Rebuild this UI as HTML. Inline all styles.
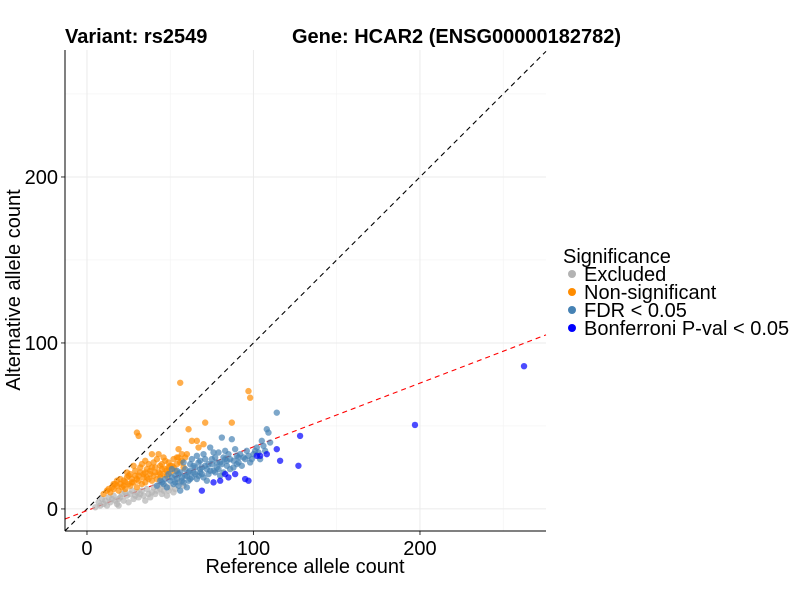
<!DOCTYPE html>
<html><head><meta charset="utf-8"><style>
body{margin:0;background:#fff}
svg{display:block;font-family:"Liberation Sans",Arial,sans-serif}
</style></head><body>
<svg id="chart" width="800" height="600" viewBox="0 0 800 600">
<rect width="800" height="600" fill="#fff"/>
<g id="grid"></g>
<g id="lines"></g>
<g id="pts"></g>
<g id="axes"></g>
<text x="65" y="43" font-size="20" font-weight="bold">Variant: rs2549</text>
<text x="292" y="43" font-size="20" font-weight="bold">Gene: HCAR2 (ENSG00000182782)</text>
<text x="305" y="573" font-size="20" text-anchor="middle">Reference allele count</text>
<text transform="translate(20,290) rotate(-90)" font-size="20" text-anchor="middle">Alternative allele count</text>
<g>
<text x="563" y="263" font-size="20">Significance</text>
<circle cx="572" cy="274" r="4" fill="#b3b3b3"/>
<text x="584" y="281" font-size="20">Excluded</text>
<circle cx="572" cy="292" r="4" fill="#ff8c00"/>
<text x="584" y="299" font-size="20">Non-significant</text>
<circle cx="572" cy="310" r="4" fill="#4682b4"/>
<text x="584" y="317" font-size="20">FDR &lt; 0.05</text>
<circle cx="572" cy="328" r="4" fill="#0000ff"/>
<text x="584" y="335" font-size="20">Bonferroni P-val &lt; 0.05</text>
</g>
</svg>
<script>
const excluded=[[5,1],[8,2],[10,3],[12,2],[14,4],[15,6],[17,5],[18,3],[20,7],[22,5],[24,8],[25,4],[26,9],[28,6],[30,10],[31,7],[33,11],[34,8],[36,12],[37,9],[39,10],[40,13],[42,11],[44,12],[45,9],[47,14],[49,11],[50,13],[52,10],[55,16],[58,14],[35,5],[27,11],[21,9],[16,8],[11,5],[13,7],[19,6],[23,10],[29,8],[32,9],[38,7],[41,9],[43,14],[46,11],[48,8],[53,12],[19,2],[9,6],[7,4]];
const nonsig=[[10,9],[12,11],[14,10],[15,13],[16,12],[18,14],[19,11],[20,15],[21,13],[22,17],[23,12],[24,19],[24,22],[25,15],[26,14],[27,18],[28,26],[28,16],[29,20],[30,13],[30,46],[31,44],[31,17],[32,22],[33,15],[34,19],[35,29],[35,16],[36,24],[37,18],[38,21],[39,33],[39,17],[40,20],[41,25],[42,18],[43,33],[43,22],[44,19],[45,27],[46,21],[47,24],[48,20],[49,28],[50,22],[51,26],[52,30],[53,23],[54,27],[55,36],[55,31],[56,76],[57,29],[58,25],[60,33],[61,48],[63,41],[66,41],[67,37],[70,39],[71,52],[87,52],[97,71],[98,67],[26,21],[33,27],[18,17],[46,31],[44,26],[13,12],[17,15],[20,18],[22,14],[25,20],[27,16],[29,23],[30,18],[32,25],[34,21],[36,19],[37,27],[38,23],[40,28],[41,22],[42,30],[45,24],[47,29],[48,23],[50,26],[52,25],[54,31],[56,28],[57,33],[59,31],[16,15],[23,16],[31,20],[35,22],[39,25],[44,21],[49,25]];
const fdr=[[42,14],[45,16],[47,18],[48,13],[50,17],[52,15],[53,20],[54,18],[55,14],[56,22],[57,19],[58,16],[59,24],[60,20],[61,17],[62,23],[63,19],[64,26],[65,21],[66,18],[67,28],[68,22],[69,25],[70,19],[71,30],[72,24],[73,21],[74,37],[75,27],[76,23],[77,31],[78,25],[79,34],[80,28],[81,43],[82,22],[83,30],[84,26],[85,33],[86,24],[87,42],[88,29],[89,36],[90,27],[91,31],[92,33],[93,26],[95,30],[96,35],[98,28],[100,33],[102,37],[104,30],[105,41],[108,48],[109,46],[114,58],[107,35],[49,21],[51,24],[58,28],[63,30],[66,32],[70,33],[60,13],[72,17],[80,20],[56,11],[44,17],[46,15],[51,19],[53,16],[55,21],[57,17],[59,20],[61,22],[62,18],[64,22],[65,25],[67,20],[68,24],[69,21],[71,26],[73,27],[74,23],[75,30],[77,22],[78,28],[79,24],[81,27],[82,31],[84,29],[86,30],[88,25],[90,32],[91,28],[94,31],[97,32],[99,30],[101,35],[103,34],[106,38],[110,40],[54,23],[62,27],[68,29],[76,34],[83,35]];
const bonf=[[69,11],[76,16],[80,17],[83,21],[85,19],[89,21],[95,18],[97,17],[102,32],[104,32],[108,33],[114,36],[116,29],[127,26],[128,44],[197,50.6],[262.5,86]];
const xTicks=[0,100,200];
const yTicks=[0,100,200];
const minorTicks=[50,150,250];
const fitSlope=0.384, fitIntercept=-1;

const X0=65,X1=546,Y0=50,Y1=531,xmin=-13.2,xmax=275.7,ymin=-13.3,ymax=276.5;
const sx=v=>X0+(v-xmin)/(xmax-xmin)*(X1-X0);
const sy=v=>Y1-(v-ymin)/(ymax-ymin)*(Y1-Y0);
const NS="http://www.w3.org/2000/svg";
function mk(t,a,p){const e=document.createElementNS(NS,t);for(const k in a)e.setAttribute(k,a[k]);p.appendChild(e);return e;}
const grid=document.getElementById('grid'),lines=document.getElementById('lines'),pts=document.getElementById('pts'),axes=document.getElementById('axes');
minorTicks.forEach(v=>{
 const a=mk('line',{x1:sx(v),x2:sx(v),y1:Y0,y2:Y1,stroke:'#f2f2f2','stroke-width':0.6},grid);
 
 
 const b=mk('line',{x1:X0,x2:X1,y1:sy(v),y2:sy(v),stroke:'#f2f2f2','stroke-width':0.6},grid);
 
 
});
xTicks.forEach(v=>{
 const g=mk('line',{x1:sx(v),x2:sx(v),y1:Y0,y2:Y1,stroke:'#ebebeb','stroke-width':1},grid);
 
 
 const t=mk('line',{x1:sx(v),x2:sx(v),y1:Y1,y2:Y1+4,stroke:'#333'},axes);
 
 
 const l=mk('text',{x:sx(v),y:Y1+24,'font-size':20,'text-anchor':'middle',fill:'#000'},axes);
 l.textContent=v;
 
 
});
yTicks.forEach(v=>{
 const g=mk('line',{x1:X0,x2:X1,y1:sy(v),y2:sy(v),stroke:'#ebebeb','stroke-width':1},grid);
 
 
 const t=mk('line',{x1:X0-4,x2:X0,y1:sy(v),y2:sy(v),stroke:'#333'},axes);
 
 
 const l=mk('text',{x:X0-7,y:sy(v)+7,'font-size':20,'text-anchor':'end',fill:'#000'},axes);
 l.textContent=v;
 
 
});
const ax=mk('line',{x1:X0,x2:X0,y1:Y0,y2:Y1,stroke:'#000','stroke-width':1},axes);


const bx=mk('line',{x1:X0,x2:X1,y1:Y1,y2:Y1,stroke:'#000','stroke-width':1},axes);


const diag=mk('line',{x1:sx(xmin),y1:sy(xmin),x2:sx(xmax),y2:sy(xmax),stroke:'#000','stroke-width':1.1,'stroke-dasharray':'5,4'},lines);


const fit=mk('line',{x1:sx(xmin),y1:sy(fitIntercept+fitSlope*xmin),x2:sx(xmax),y2:sy(fitIntercept+fitSlope*xmax),stroke:'#ff0000','stroke-width':1.1,'stroke-dasharray':'5,4'},lines);


function draw(arr,col,name){arr.forEach(d=>{
 const c=mk('circle',{cx:sx(d[0]),cy:sy(d[1]),r:3.2,fill:col,'fill-opacity':0.7},pts);
 
 
});}
draw(excluded,'#b3b3b3','point-excluded');
draw(nonsig,'#ff8c00','point-nonsignificant');
draw(fdr,'#4682b4','point-fdr');
draw(bonf,'#0000ff','point-bonferroni');
</script>
</body></html>
